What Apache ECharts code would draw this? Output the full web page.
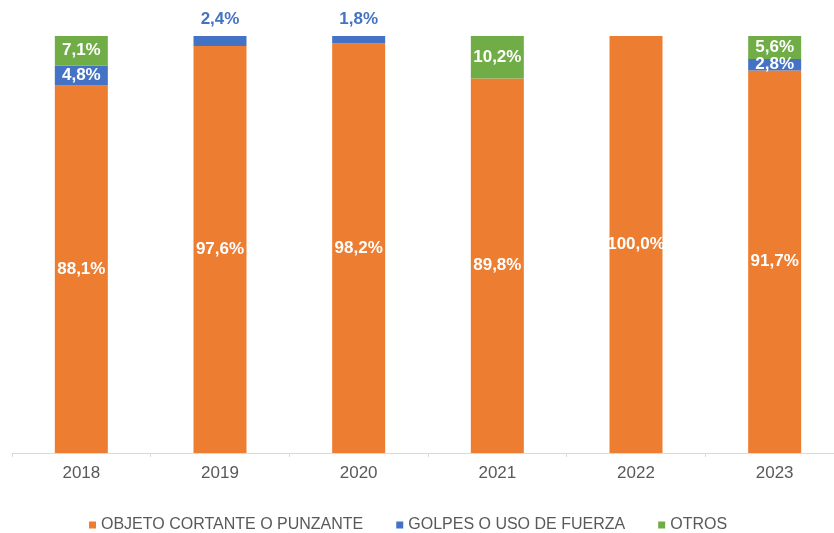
<!DOCTYPE html>
<html>
<head>
<meta charset="utf-8">
<script src="https://cdn.jsdelivr.net/npm/echarts@6/dist/echarts.min.js"></script>
<style>
  html, body { margin: 0; padding: 0; background: #fff; overflow: hidden; }
  #chart { width: 846px; height: 533px; }
</style>
</head>
<body>
<div id="chart"></div>
<script>
const years = ['2018', '2019', '2020', '2021', '2022', '2023']
const cortante = [88.1, 97.6, 98.2, 89.8, 100.0, 91.7]
const golpes = [4.8, 2.4, 1.8, 0, 0, 2.8]
const otros = [7.1, 0, 0, 10.2, 0, 5.6]

const ORANGE = '#ED7D31'
const BLUE = '#4472C4'
const GREEN = '#70AD47'

const fmt = (p) => p.value > 0 ? p.value.toFixed(1).replace('.', ',') + '%' : ''

const baseLabel = {
  show: true,
  position: 'inside',
  color: '#fff',
  fontFamily: 'Liberation Sans, Arial, sans-serif',
  fontWeight: 'bold',
  fontSize: 17,
  formatter: fmt,
}

// blue segments with nothing on top get their label above the bar
const golpesData = golpes.map((v, i) => {
  if (otros[i] === 0 && v > 0) {
    return { value: v, label: { position: 'top', color: BLUE, distance: 8 } }
  }
  return v
})

// chart box is a bit wider than the window: the axis runs off the right edge
const chart = echarts.init(document.getElementById('chart'))
chart.setOption({
  animation: false,
  grid: { left: 12, right: 2, top: 36, bottom: 80, containLabel: false },
  xAxis: {
    type: 'category',
    data: years,
    axisLine: { lineStyle: { color: '#d9d9d9', width: 1 } },
    axisTick: { show: true, length: 4, lineStyle: { color: '#d9d9d9' } },
    axisLabel: {
      color: '#595959',
      fontSize: 17,
      margin: 12,
      fontFamily: 'Liberation Sans, Arial, sans-serif',
    },
  },
  yAxis: {
    type: 'value',
    min: 0,
    max: 100,
    show: false,
    splitLine: { show: false },
  },
  legend: {
    bottom: -5,
    left: 84,
    icon: 'rect',
    itemWidth: 7,
    itemHeight: 7,
    itemGap: 33,
    textStyle: {
      color: '#595959',
      fontSize: 16,
      fontFamily: 'Liberation Sans, Arial, sans-serif',
    },
  },
  series: [
    {
      name: 'OBJETO CORTANTE O PUNZANTE',
      type: 'bar',
      stack: 'total',
      barWidth: 53,
      itemStyle: { color: ORANGE },
      label: baseLabel,
      data: cortante,
    },
    {
      name: 'GOLPES O USO DE FUERZA',
      type: 'bar',
      stack: 'total',
      barWidth: 53,
      itemStyle: { color: BLUE },
      label: baseLabel,
      data: golpesData,
    },
    {
      name: 'OTROS',
      type: 'bar',
      stack: 'total',
      barWidth: 53,
      itemStyle: { color: GREEN },
      label: baseLabel,
      data: otros,
    },
  ],
})
</script>
</body>
</html>
